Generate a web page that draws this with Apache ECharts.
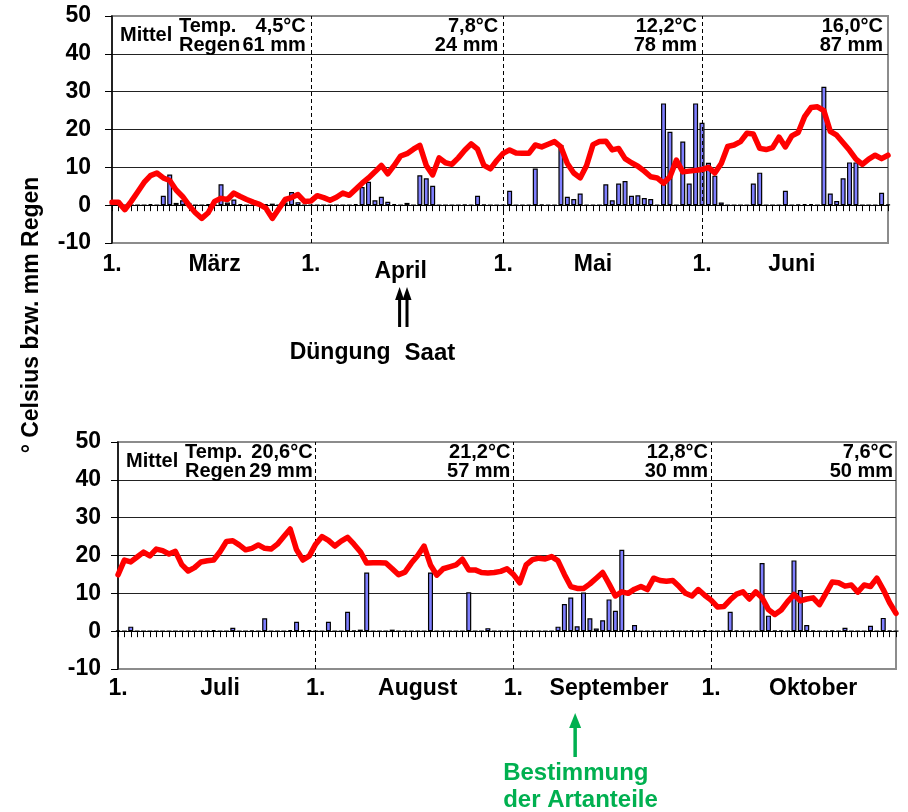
<!DOCTYPE html>
<html>
<head>
<meta charset="utf-8">
<script src="https://cdn.jsdelivr.net/npm/echarts@6/dist/echarts.min.js"></script>
<style>
html,body{margin:0;padding:0;background:#fff;}
#main{width:908px;height:812px;}
</style>
</head>
<body>
<div id="main"></div>
<script>
// ---------- DATA ----------
const topMonthNames = ['März', 'April', 'Mai', 'Juni'];
const topMonthNums = [3, 4, 5, 6];
const topMonthDays = [31, 30, 31, 30];
const topMonthStart = [0, 31, 61, 92];
const topMonthLabelIdx = [16, 45, 75, 106];
const topMeanTemp = ['4,5', '7,8', '12,2', '16,0'];
const topMeanRain = [61, 24, 78, 87];

const botMonthNames = ['Juli', 'August', 'September', 'Oktober'];
const botMonthNums = [7, 8, 9, 10];
const botMonthDays = [31, 31, 30, 31];
const botMonthStart = [0, 31, 62, 93];
const botMonthLabelIdx = [16, 47, 77, 109];
const botMeanTemp = ['20,6', '21,2', '12,8', '7,6'];
const botMeanRain = [29, 57, 30, 50];

const yTicks = [-10, 0, 10, 20, 30, 40, 50];

const tempMar = [0.8,0.8,-1.2,1.0,3.5,6.0,7.8,8.5,7.2,6.5,4.0,2.3,0.0,-2.0,-3.5,-2.0,1.0,1.8,1.5,3.2,2.3,1.5,0.8,0.2,-0.8,-3.5,-1.0,1.5,2.0,2.8,1.0];
const tempApr = [1.1,2.5,2.0,1.3,2.1,3.2,2.6,4.2,5.8,7.2,8.8,10.5,8.3,10.5,13.0,13.6,14.8,15.8,10.5,8.0,12.5,11.2,10.8,12.5,14.5,16.2,14.8,10.5,9.6,11.8];
const tempMai = [13.7,14.6,13.8,13.7,13.7,15.9,15.4,16.1,16.8,15.4,11.0,8.5,7.2,10.5,16.0,16.8,16.9,14.6,15.0,12.3,11.2,10.3,9.0,7.5,7.2,5.8,7.5,11.9,8.8,9.0,9.2];
const tempJun = [9.4,10.0,8.5,11.0,15.5,15.9,16.8,19.0,18.8,15.0,14.7,15.2,18.0,15.4,18.3,19.2,23.4,25.8,26.0,25.0,19.5,18.5,16.5,14.5,12.2,10.8,12.2,13.2,12.3,13.2];

const rainMar = [0,0,0,0,0,0,0.3,0,2.5,8.1,0.6,1.3,0.6,0,0,0.3,0,5.5,0.7,1.5,0.3,0,0,0,0.3,0.4,0,0.7,3.5,0.8,0];
const rainApr = [0,0,0,0,0,0,0,0.3,4.8,6.2,1.3,2.2,0.9,0.3,0,0.6,0,7.9,7.1,5.1,0,0,0,0,0.2,0,2.5,0.2,0,0];
const rainMai = [0,3.8,0,0.1,0.1,9.7,0.2,0.1,0.1,15.9,2.2,1.6,3.1,0.1,0.1,0,5.5,1.3,5.7,6.4,2.5,2.6,1.9,1.6,0.1,26.9,19.4,0,16.8,5.7,26.9];
const rainJun = [21.8,11.2,7.8,0.7,0,0,0,0,5.7,8.6,0,0,0,3.8,0,0.2,0.3,0.3,0,31.3,3.1,1.1,7.1,11.3,11.3,0,0,0.1,3.3,0.2];

const tempJul = [14.9,18.8,18.3,19.6,20.9,19.9,21.7,21.3,20.4,21.1,17.6,15.9,16.8,18.3,18.6,18.8,21.0,23.7,23.9,22.8,21.5,21.9,22.8,21.9,21.7,23.0,25.0,27.0,21.5,18.8,19.9];
const tempAug = [23.0,25.0,24.0,22.5,23.8,24.8,23.0,21.0,18.0,18.1,18.1,18.0,16.5,14.9,15.6,18.0,20.0,22.5,17.5,14.8,16.5,17.0,17.5,19.0,16.2,16.2,15.5,15.4,15.5,15.8,16.5];
const tempSep = [15.0,12.8,17.5,18.9,19.3,19.1,19.7,18.6,15.0,11.8,11.3,11.3,12.5,14.0,15.5,12.5,9.3,10.4,10.0,11.1,11.8,11.0,14.0,13.4,13.2,13.4,11.8,10.0,9.3,11.0];
const tempOkt = [9.5,8.2,6.4,6.5,8.3,9.8,10.4,8.5,10.4,8.8,5.7,4.4,5.6,7.8,9.7,8.0,8.5,8.8,7.0,10.0,13.0,12.8,11.9,12.2,10.3,12.2,11.8,14.0,11.0,7.5,4.7];

const rainJul = [0.2,0,1.2,0,0,0,0,0,0,0,0,0,0,0,0,0.3,0,0,0.9,0,0,0.2,0,3.4,0,0,0,0.3,2.5,0.3,0.3];
const rainAug = [0,0,2.5,0,0,5.1,0.2,0.4,15.5,0,0,0,0.4,0,0,0,0,0,15.5,0,0,0,0,0,10.3,0,0,0.8,0,0,0];
const rainSep = [0,0,0,0,0,0,0,1.2,7.2,8.9,1.3,10.2,3.4,0.7,2.9,8.4,5.4,21.5,0.3,1.6,0,0,0,0,0,0.2,0,0,0.2,0];
const rainOkt = [0.3,0,0,0,5.1,0.2,0,0,0,18.0,4.1,0.2,0.2,0,18.7,10.9,1.6,0.2,0,0,0.2,0,0.9,0,0,0,1.4,0,3.5,0.2,0];

// annotation targets (category indices)
const duengungIdx = 45, saatIdx = 46, bestimmungIdx = 72;

// ---------- BUILD ----------
function makeCats(nums, days) {
  const out = [];
  nums.forEach((m, k) => { for (let d = 1; d <= days[k]; d++) out.push(d + '.' + m + '.'); });
  return out;
}
const topCats = makeCats(topMonthNums, topMonthDays);
const botCats = makeCats(botMonthNums, botMonthDays);
const topTemp = [].concat(tempMar, tempApr, tempMai, tempJun);
const topRain = [].concat(rainMar, rainApr, rainMai, rainJun);
const botTemp = [].concat(tempJul, tempAug, tempSep, tempOkt);
const botRain = [].concat(rainJul, rainAug, rainSep, rainOkt);

const FONT = '"Liberation Sans", Arial, sans-serif';
const chart = echarts.init(document.getElementById('main'), null, {renderer: 'canvas'});

function labelMap(starts, names, idxs) {
  const m = {};
  starts.forEach(i => m[i] = '1.');
  names.forEach((n, k) => m[idxs[k]] = (n === 'April' ? '{low|' + n + '}' : n));
  return m;
}
const topLabels = labelMap(topMonthStart, topMonthNames, topMonthLabelIdx);
const botLabels = labelMap(botMonthStart, botMonthNames, botMonthLabelIdx);

const grids = [
  {left: 112, top: 16, width: 776, height: 227},
  {left: 118, top: 442, width: 778, height: 227}
];

function zeroAxis(g, cats) {
  return {
    type: 'category', gridIndex: g, data: cats, boundaryGap: false, position: 'bottom',
    axisLine: {show: true, onZero: true, lineStyle: {color: '#000', width: 1}},
    axisTick: {show: true, interval: 0, length: 6, lineStyle: {color: '#000', width: 1}},
    axisLabel: {show: false}, splitLine: {show: false}
  };
}
function labelAxis(g, cats, map, margin) {
  return {
    type: 'category', gridIndex: g, data: cats, boundaryGap: false, position: 'bottom',
    axisLine: {show: false, onZero: false}, axisTick: {show: false}, splitLine: {show: false},
    axisLabel: {
      show: true, interval: 0, margin: margin, color: '#000', fontSize: 23, fontWeight: 'bold', fontFamily: FONT,
      formatter: (v, i) => map[i] || '',
      rich: {low: {fontSize: 23, fontWeight: 'bold', fontFamily: FONT, color: '#000', padding: [7, 0, 0, 0]}}
    }
  };
}
function yAx(g, margin) {
  return {
    type: 'value', gridIndex: g, min: -10, max: 50, interval: 10,
    axisLine: {show: true, lineStyle: {color: '#000', width: 1.5}},
    axisTick: {show: true, length: 7, lineStyle: {color: '#000', width: 1}},
    axisLabel: {color: '#000', fontSize: 23, fontWeight: 'bold', fontFamily: FONT, margin: margin,
      formatter: v => yTicks.indexOf(v) >= 0 ? String(v) : ''},
    splitLine: {show: true, lineStyle: {color: ['#8c8c8c', '#000', '#222', '#222', '#222', '#222', '#8c8c8c'], width: 1}}
  };
}
function dividers(starts) {
  return {
    silent: true, symbol: 'none', animation: false,
    label: {show: false},
    lineStyle: {type: [4, 3], color: '#000', width: 1},
    data: starts.slice(1).map(i => ({xAxis: i}))
  };
}
function barSeries(xi, yi, data) {
  return {
    type: 'bar', xAxisIndex: xi, yAxisIndex: yi, data: data, barWidth: 5, z: 2,
    itemStyle: {color: '#7f7fff', borderColor: '#000', borderWidth: 1.2}
  };
}
function lineSeries(xi, yi, data, starts) {
  return {
    type: 'line', xAxisIndex: xi, yAxisIndex: yi, data: data, symbol: 'none', z: 5,
    lineStyle: {color: '#ff0000', width: 5.5, cap: 'round', join: 'round'},
    markLine: dividers(starts)
  };
}

chart.setOption({
  animation: false,
  backgroundColor: '#fff',
  grid: grids.map(g => Object.assign({show: true, borderColor: '#8c8c8c', borderWidth: 2, backgroundColor: '#fff', containLabel: false}, g)),
  xAxis: [
    zeroAxis(0, topCats), labelAxis(0, topCats, topLabels, 10),
    zeroAxis(1, botCats), labelAxis(1, botCats, botLabels, 8)
  ],
  yAxis: [yAx(0, 21), yAx(1, 17)],
  series: [
    barSeries(0, 0, topRain), lineSeries(0, 0, topTemp, topMonthStart),
    barSeries(2, 1, botRain), lineSeries(2, 1, botTemp, botMonthStart)
  ]
});

// ---------- ANNOTATIONS ----------
function px(xi, yi, idx, val) { return chart.convertToPixel({xAxisIndex: xi, yAxisIndex: yi}, [idx, val]); }
function txt(x, y, text, opts) {
  const o = Object.assign({size: 20, align: 'left', va: 'middle', color: '#000'}, opts || {});
  return {
    type: 'text', x: x, y: y, rotation: o.rotation || 0, z: 100,
    style: {text: text, fontSize: o.size, fontWeight: 'bold', fontFamily: FONT, fill: o.color,
      align: o.align, textAlign: o.align, verticalAlign: o.va, textVerticalAlign: o.va}
  };
}
const gfx = [];
[[0, 0, topCats, topMonthStart, topMeanTemp, topMeanRain, 5],
 [2, 1, botCats, botMonthStart, botMeanTemp, botMeanRain, 3]].forEach(([xi, yi, cats, starts, mt, mr, gap]) => {
  const left = px(xi, yi, 0, 0)[0];
  const right = px(xi, yi, cats.length - 1, 0)[0];
  const yT = px(xi, yi, 0, 47.3)[1];
  const yR = px(xi, yi, 0, 42.1)[1];
  const yM = px(xi, yi, 0, 44.8)[1];
  gfx.push(txt(left + 8, yM, 'Mittel'));
  gfx.push(txt(left + 67, yT, 'Temp.'));
  gfx.push(txt(left + 67, yR, 'Regen'));
  mt.forEach((t, m) => {
    const edge = (m < 3 ? px(xi, yi, starts[m + 1], 0)[0] : right) - gap;
    gfx.push(txt(edge, yT, t + '°C', {align: 'right'}));
    gfx.push(txt(edge, yR, mr[m] + ' mm', {align: 'right'}));
  });
});

function arrow(x, yTip, yTail, color, w, hw, hh) {
  return [
    {type: 'line', z: 100, shape: {x1: x, y1: yTip + hh - 1, x2: x, y2: yTail}, style: {stroke: color, lineWidth: w}},
    {type: 'polygon', z: 100, shape: {points: [[x, yTip], [x - hw, yTip + hh], [x + hw, yTip + hh]]}, style: {fill: color}}
  ];
}
const a1 = px(0, 0, duengungIdx, 0)[0];
const a2 = px(0, 0, saatIdx, 0)[0];
gfx.push(...arrow(a1 - 1, 287, 327, '#000', 3, 4.5, 13));
gfx.push(...arrow(a2, 287, 327, '#000', 3, 4.5, 13));
gfx.push(txt(a1 - 10, 353, 'Düngung', {size: 23, align: 'right'}));
gfx.push(txt(a1 + 4, 353, 'Saat', {size: 24, align: 'left'}));

const g1 = px(2, 1, bestimmungIdx, 0)[0] - 2;
const green = '#00b050';
gfx.push(...arrow(g1, 713, 757, green, 3.5, 6, 15));
gfx.push(txt(g1 - 72, 773, 'Bestimmung', {size: 24, color: green}));
gfx.push(txt(g1 - 72, 800, 'der Artanteile', {size: 24, color: green}));

gfx.push(txt(32, 315, '° Celsius bzw. mm Regen', {size: 23, align: 'center', rotation: Math.PI / 2}));

chart.setOption({graphic: {elements: gfx}});
</script>
</body>
</html>
